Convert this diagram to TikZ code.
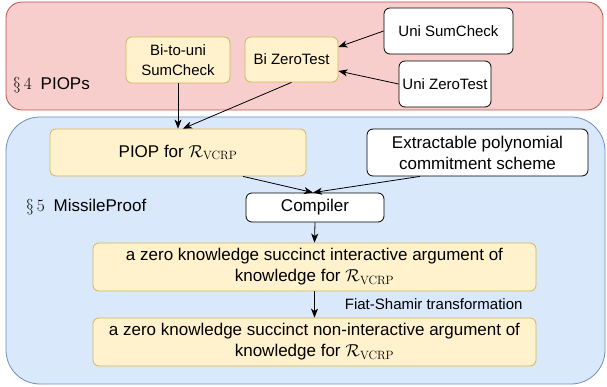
\documentclass[tikz,border=0pt]{standalone}
\usepackage[no-math]{fontspec}
\setmainfont{Liberation Sans}
\usetikzlibrary{arrows.meta,calc}
\definecolor{redfill}{HTML}{F8CECC}
\definecolor{redstroke}{HTML}{B85450}
\definecolor{bluefill}{HTML}{DAE8FC}
\definecolor{bluestroke}{HTML}{6C8EBF}
\definecolor{yfill}{HTML}{FFF2CC}
\definecolor{ystroke}{HTML}{D6B656}
\newcommand{\rvcrp}{{\fontsize{18.5}{21}\selectfont$\mathcal{R}_{\mathrm{VCRP}}$}}
\newcommand{\secmark}[1]{{\fontsize{19}{21}\selectfont$\S\,#1$}}
\begin{document}
\begin{tikzpicture}[x=1pt,y=-1pt,
  box/.style={draw, rounded corners=6pt, line width=0.8pt, align=center, inner sep=0pt},
  small/.style={font=\fontsize{15}{19.5}\selectfont},
  big/.style={font=\fontsize{17}{21}\selectfont},
  ybox/.style={box, fill=yfill, draw=ystroke},
  wbox/.style={box, fill=white, draw=black},
  group/.style={line width=0.8pt, inner sep=0pt},
  lab/.style={inner sep=0pt, anchor=west, font=\fontsize{17}{20}\selectfont},
  conn/.style={line width=0.8pt, -{Stealth[length=9pt,width=7pt,inset=2.5pt]}}]
\useasboundingbox (0,0) rectangle (607,387);
% groups
\node[group, draw=redstroke, fill=redfill, rounded corners=16pt,
      minimum width=597pt, minimum height=108pt] (grp4) at (304.5,56) {};
\node[group, draw=bluestroke, fill=bluefill, rounded corners=34pt,
      minimum width=599pt, minimum height=267pt] (grp5) at (305.5,250.5) {};
\node[lab] (lab4) at (13,85) {\secmark{4}\hspace{9pt}PIOPs};
\node[lab] (lab5) at (26,207) {\secmark{5}\hspace{9pt}MissileProof};
% section 4 nodes
\node[ybox, small, minimum width=104pt, minimum height=46pt] (btu) at (178,60) {Bi-to-uni\\SumCheck};
\node[ybox, small, minimum width=93pt, minimum height=45pt] (bizt) at (291.5,59.5) {Bi ZeroTest};
\node[wbox, small, minimum width=129pt, minimum height=46pt] (unisc) at (448.5,31) {Uni SumCheck};
\node[wbox, small, minimum width=92pt, minimum height=46pt] (unizt) at (445,84) {Uni ZeroTest};
% section 5 nodes
\node[ybox, big, minimum width=256pt, minimum height=47pt] (piop) at (178,152.5) {PIOP for \rvcrp};
\node[wbox, big, minimum width=221pt, minimum height=47pt] (ext) at (477.5,152.5) {Extractable polynomial\\commitment scheme};
\node[wbox, big, minimum width=138pt, minimum height=29pt] (comp) at (315,207.5) {Compiler};
\node[ybox, big, minimum width=443pt, minimum height=48pt] (zki) at (314.5,267) {a zero knowledge succinct interactive argument of\\knowledge for \rvcrp};
\node[ybox, big, minimum width=443pt, minimum height=48pt] (zkn) at (314.5,342) {a zero knowledge succinct non-interactive argument of\\knowledge for \rvcrp};
% connectors
\draw[conn] (unisc.west) -- ($(bizt.east)+(0,-12.5)$);
\draw[conn] (unizt.west) -- ($(bizt.east)+(0,11.5)$);
\draw[conn] (btu.south) -- (piop.north);
\draw[conn] (bizt.south) -- ($(piop.north)+(5,0)$);
\draw[conn] ($(piop.south)+(65,0)$) -- ($(comp.north)+(-2,0)$);
\draw[conn] ($(ext.south)+(-57.5,0)$) -- ($(comp.north)+(-2,0)$);
\draw[conn] (comp.south) -- (zki.north);
\draw[conn] (zki.south) -- node[anchor=west, xshift=30pt, inner sep=0pt, font=\fontsize{15}{18}\selectfont] (fslab) {Fiat-Shamir transformation} (zkn.north);
\end{tikzpicture}
\end{document}
